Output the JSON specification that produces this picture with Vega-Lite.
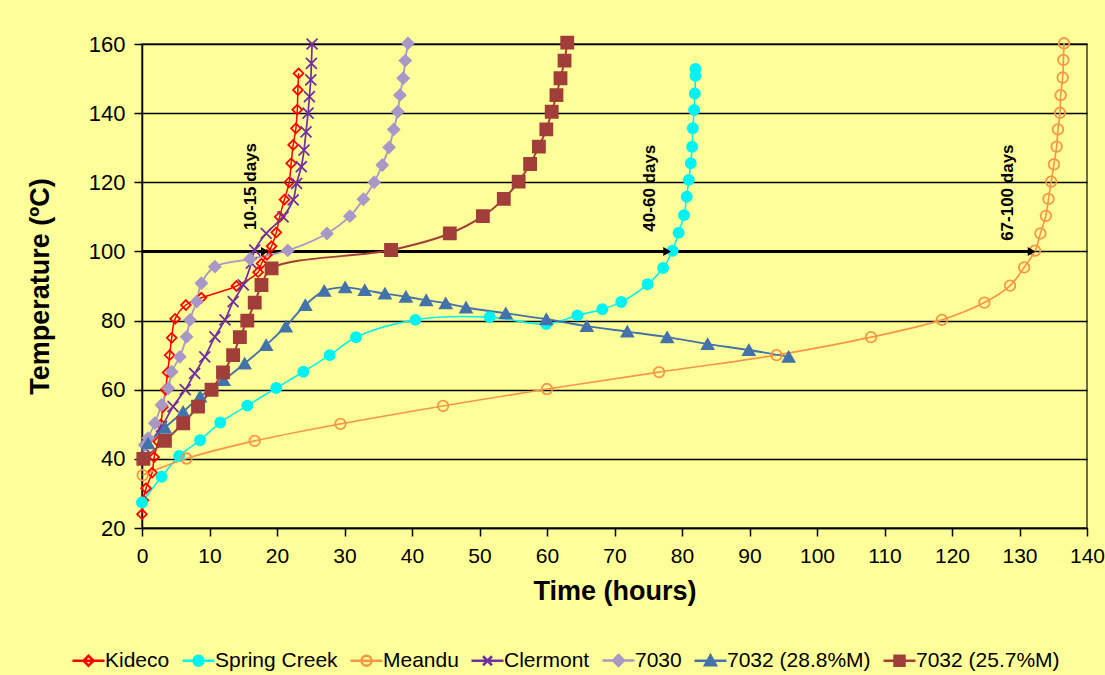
{
  "$schema": "https://vega.github.io/schema/vega-lite/v6.json",
  "width": 945,
  "height": 484,
  "autosize": {"type": "none"},
  "padding": {"left": 142, "top": 44, "right": 18, "bottom": 147},
  "background": "#FFFF99",
  "config": {
    "font": "Liberation Sans",
    "view": {"fill": "#CCFFFF", "stroke": "#3a3a3a", "strokeWidth": 1.5},
    "axis": {"labelColor": "black", "titleColor": "black", "tickColor": "black", "domainColor": "black", "domainWidth": 1.5, "tickWidth": 1.5, "tickSize": 8, "labelFontSize": 22, "labelFont": "Liberation Sans", "titleFont": "Liberation Sans", "titleFontSize": 27, "titleFontWeight": "bold", "labelFlush": false, "labelOverlap": false}
  },
  "resolve": {"scale": {"stroke": "independent", "fill": "independent", "shape": "independent", "size": "independent", "strokeWidth": "independent"}},
  "datasets": {
    "pts": [
      {"s":"Kideco","i":0,"x":0,"y":24},{"s":"Kideco","i":1,"x":0.2,"y":28},{"s":"Kideco","i":2,"x":0.6,"y":31.5},{"s":"Kideco","i":3,"x":1.5,"y":36},{"s":"Kideco","i":4,"x":1.8,"y":40.5},{"s":"Kideco","i":5,"x":2.4,"y":45},{"s":"Kideco","i":6,"x":2.8,"y":50},{"s":"Kideco","i":7,"x":3.1,"y":55},{"s":"Kideco","i":8,"x":3.5,"y":60},{"s":"Kideco","i":9,"x":3.8,"y":65},{"s":"Kideco","i":10,"x":4.1,"y":70},{"s":"Kideco","i":11,"x":4.4,"y":75},{"s":"Kideco","i":12,"x":4.9,"y":80.5},{"s":"Kideco","i":13,"x":6.5,"y":84.5},{"s":"Kideco","i":14,"x":8.8,"y":86.6},{"s":"Kideco","i":15,"x":14,"y":90},{"s":"Kideco","i":16,"x":17.2,"y":94},{"s":"Kideco","i":17,"x":17.7,"y":96.5},{"s":"Kideco","i":18,"x":18.5,"y":99},{"s":"Kideco","i":19,"x":19.2,"y":101.5},{"s":"Kideco","i":20,"x":19.9,"y":105.5},{"s":"Kideco","i":21,"x":20.4,"y":110},{"s":"Kideco","i":22,"x":21.1,"y":115},{"s":"Kideco","i":23,"x":21.8,"y":120},{"s":"Kideco","i":24,"x":22.1,"y":125.5},{"s":"Kideco","i":25,"x":22.4,"y":130.8},{"s":"Kideco","i":26,"x":22.8,"y":135.6},{"s":"Kideco","i":27,"x":23,"y":141},{"s":"Kideco","i":28,"x":23.1,"y":146.7},{"s":"Kideco","i":29,"x":23.2,"y":151.5},
      {"s":"Spring Creek","i":0,"x":0,"y":27.4},{"s":"Spring Creek","i":1,"x":2.9,"y":34.8},{"s":"Spring Creek","i":2,"x":5.5,"y":40.8},{"s":"Spring Creek","i":3,"x":8.6,"y":45.4},{"s":"Spring Creek","i":4,"x":11.6,"y":50.5},{"s":"Spring Creek","i":5,"x":15.6,"y":55.4},{"s":"Spring Creek","i":6,"x":19.9,"y":60.5},{"s":"Spring Creek","i":7,"x":23.9,"y":65.2},{"s":"Spring Creek","i":8,"x":27.8,"y":70},{"s":"Spring Creek","i":9,"x":31.7,"y":75.2},{"s":"Spring Creek","i":10,"x":40.5,"y":80.2},{"s":"Spring Creek","i":11,"x":51.5,"y":81},{"s":"Spring Creek","i":12,"x":59.9,"y":79},{"s":"Spring Creek","i":13,"x":64.5,"y":81.5},{"s":"Spring Creek","i":14,"x":68.2,"y":83.3},{"s":"Spring Creek","i":15,"x":71,"y":85.4},{"s":"Spring Creek","i":16,"x":74.9,"y":90.5},{"s":"Spring Creek","i":17,"x":77.2,"y":95.2},{"s":"Spring Creek","i":18,"x":78.6,"y":100.2},{"s":"Spring Creek","i":19,"x":79.5,"y":105.4},{"s":"Spring Creek","i":20,"x":80.3,"y":110.5},{"s":"Spring Creek","i":21,"x":80.7,"y":115.8},{"s":"Spring Creek","i":22,"x":81,"y":120.7},{"s":"Spring Creek","i":23,"x":81.3,"y":125.5},{"s":"Spring Creek","i":24,"x":81.5,"y":130.3},{"s":"Spring Creek","i":25,"x":81.6,"y":135.6},{"s":"Spring Creek","i":26,"x":81.8,"y":140.9},{"s":"Spring Creek","i":27,"x":81.9,"y":145.7},{"s":"Spring Creek","i":28,"x":82,"y":150.8},{"s":"Spring Creek","i":29,"x":82,"y":152.8},
      {"s":"Meandu","i":0,"x":0.1,"y":35.3},{"s":"Meandu","i":1,"x":6.6,"y":40.1},{"s":"Meandu","i":2,"x":16.7,"y":45.2},{"s":"Meandu","i":3,"x":29.4,"y":50.1},{"s":"Meandu","i":4,"x":44.6,"y":55.3},{"s":"Meandu","i":5,"x":60,"y":60.2},{"s":"Meandu","i":6,"x":76.6,"y":65.1},{"s":"Meandu","i":7,"x":94,"y":70},{"s":"Meandu","i":8,"x":108,"y":75.2},{"s":"Meandu","i":9,"x":118.5,"y":80.2},{"s":"Meandu","i":10,"x":124.8,"y":85.2},{"s":"Meandu","i":11,"x":128.6,"y":90.1},{"s":"Meandu","i":12,"x":130.7,"y":95.4},{"s":"Meandu","i":13,"x":132.3,"y":100.2},{"s":"Meandu","i":14,"x":133.1,"y":105.2},{"s":"Meandu","i":15,"x":133.9,"y":110.3},{"s":"Meandu","i":16,"x":134.3,"y":115.2},{"s":"Meandu","i":17,"x":134.7,"y":120.2},{"s":"Meandu","i":18,"x":135.1,"y":125.2},{"s":"Meandu","i":19,"x":135.5,"y":130.3},{"s":"Meandu","i":20,"x":135.7,"y":135.3},{"s":"Meandu","i":21,"x":136,"y":140.1},{"s":"Meandu","i":22,"x":136.1,"y":145.2},{"s":"Meandu","i":23,"x":136.4,"y":150.3},{"s":"Meandu","i":24,"x":136.5,"y":155.4},{"s":"Meandu","i":25,"x":136.6,"y":160.2},
      {"s":"Clermont","i":0,"x":0.5,"y":43},{"s":"Clermont","i":1,"x":2.9,"y":49.3},{"s":"Clermont","i":2,"x":4.6,"y":55.1},{"s":"Clermont","i":3,"x":6.4,"y":60},{"s":"Clermont","i":4,"x":7.8,"y":64.7},{"s":"Clermont","i":5,"x":9.3,"y":69.5},{"s":"Clermont","i":6,"x":10.8,"y":75.3},{"s":"Clermont","i":7,"x":12.3,"y":80.2},{"s":"Clermont","i":8,"x":13.5,"y":85.5},{"s":"Clermont","i":9,"x":15,"y":90.3},{"s":"Clermont","i":10,"x":16.2,"y":96.6},{"s":"Clermont","i":11,"x":16.7,"y":100.4},{"s":"Clermont","i":12,"x":18.4,"y":105.2},{"s":"Clermont","i":13,"x":20.9,"y":110},{"s":"Clermont","i":14,"x":22.4,"y":114.9},{"s":"Clermont","i":15,"x":22.9,"y":119.7},{"s":"Clermont","i":16,"x":23.6,"y":124.5},{"s":"Clermont","i":17,"x":24,"y":129.3},{"s":"Clermont","i":18,"x":24.3,"y":134.6},{"s":"Clermont","i":19,"x":24.6,"y":140},{"s":"Clermont","i":20,"x":24.8,"y":144.8},{"s":"Clermont","i":21,"x":25,"y":149.6},{"s":"Clermont","i":22,"x":25.1,"y":154.4},{"s":"Clermont","i":23,"x":25.2,"y":160},
      {"s":"7030","i":0,"x":0.4,"y":44},{"s":"7030","i":1,"x":0.9,"y":46},{"s":"7030","i":2,"x":1.9,"y":50.3},{"s":"7030","i":3,"x":2.9,"y":55.6},{"s":"7030","i":4,"x":3.9,"y":60.4},{"s":"7030","i":5,"x":4.4,"y":65.2},{"s":"7030","i":6,"x":5.6,"y":69.5},{"s":"7030","i":7,"x":6.6,"y":75.3},{"s":"7030","i":8,"x":7.1,"y":80.2},{"s":"7030","i":9,"x":8.1,"y":85.5},{"s":"7030","i":10,"x":8.8,"y":90.8},{"s":"7030","i":11,"x":10.8,"y":95.6},{"s":"7030","i":12,"x":16,"y":97.8},{"s":"7030","i":13,"x":21.6,"y":100.3},{"s":"7030","i":14,"x":27.4,"y":105.2},{"s":"7030","i":15,"x":30.8,"y":110.2},{"s":"7030","i":16,"x":32.8,"y":115.1},{"s":"7030","i":17,"x":34.4,"y":120},{"s":"7030","i":18,"x":35.6,"y":125},{"s":"7030","i":19,"x":36.6,"y":130.1},{"s":"7030","i":20,"x":37.3,"y":135.3},{"s":"7030","i":21,"x":37.9,"y":140.4},{"s":"7030","i":22,"x":38.2,"y":145.2},{"s":"7030","i":23,"x":38.7,"y":150.1},{"s":"7030","i":24,"x":39,"y":155.2},{"s":"7030","i":25,"x":39.4,"y":160.2},
      {"s":"7032 (28.8%M)","i":0,"x":0.9,"y":44.5},{"s":"7032 (28.8%M)","i":1,"x":3.4,"y":49},{"s":"7032 (28.8%M)","i":2,"x":6.1,"y":53.6},{"s":"7032 (28.8%M)","i":3,"x":8.6,"y":58},{"s":"7032 (28.8%M)","i":4,"x":12.1,"y":62.8},{"s":"7032 (28.8%M)","i":5,"x":15.2,"y":67.6},{"s":"7032 (28.8%M)","i":6,"x":18.4,"y":72.9},{"s":"7032 (28.8%M)","i":7,"x":21.3,"y":78.3},{"s":"7032 (28.8%M)","i":8,"x":24.2,"y":84.5},{"s":"7032 (28.8%M)","i":9,"x":27,"y":88.6},{"s":"7032 (28.8%M)","i":10,"x":30.1,"y":89.6},{"s":"7032 (28.8%M)","i":11,"x":33,"y":88.8},{"s":"7032 (28.8%M)","i":12,"x":36,"y":87.8},{"s":"7032 (28.8%M)","i":13,"x":39.1,"y":86.9},{"s":"7032 (28.8%M)","i":14,"x":42.1,"y":85.9},{"s":"7032 (28.8%M)","i":15,"x":45,"y":85},{"s":"7032 (28.8%M)","i":16,"x":48,"y":83.8},{"s":"7032 (28.8%M)","i":17,"x":53.9,"y":82.1},{"s":"7032 (28.8%M)","i":18,"x":59.9,"y":80.4},{"s":"7032 (28.8%M)","i":19,"x":65.9,"y":78.4},{"s":"7032 (28.8%M)","i":20,"x":71.9,"y":76.8},{"s":"7032 (28.8%M)","i":21,"x":77.8,"y":75.2},{"s":"7032 (28.8%M)","i":22,"x":83.8,"y":73.2},{"s":"7032 (28.8%M)","i":23,"x":89.9,"y":71.5},{"s":"7032 (28.8%M)","i":24,"x":95.8,"y":69.5},
      {"s":"7032 (25.7%M)","i":0,"x":0.2,"y":40},{"s":"7032 (25.7%M)","i":1,"x":3.4,"y":45.2},{"s":"7032 (25.7%M)","i":2,"x":6.1,"y":50.3},{"s":"7032 (25.7%M)","i":3,"x":8.3,"y":55.1},{"s":"7032 (25.7%M)","i":4,"x":10.3,"y":60},{"s":"7032 (25.7%M)","i":5,"x":12,"y":65},{"s":"7032 (25.7%M)","i":6,"x":13.5,"y":70},{"s":"7032 (25.7%M)","i":7,"x":14.5,"y":75.2},{"s":"7032 (25.7%M)","i":8,"x":15.6,"y":80},{"s":"7032 (25.7%M)","i":9,"x":16.7,"y":85.2},{"s":"7032 (25.7%M)","i":10,"x":17.7,"y":90.3},{"s":"7032 (25.7%M)","i":11,"x":19.2,"y":95.1},{"s":"7032 (25.7%M)","i":12,"x":36.9,"y":100.4},{"s":"7032 (25.7%M)","i":13,"x":45.6,"y":105.2},{"s":"7032 (25.7%M)","i":14,"x":50.5,"y":110.2},{"s":"7032 (25.7%M)","i":15,"x":53.6,"y":115.2},{"s":"7032 (25.7%M)","i":16,"x":55.8,"y":120.2},{"s":"7032 (25.7%M)","i":17,"x":57.5,"y":125.3},{"s":"7032 (25.7%M)","i":18,"x":58.8,"y":130.3},{"s":"7032 (25.7%M)","i":19,"x":59.9,"y":135.3},{"s":"7032 (25.7%M)","i":20,"x":60.7,"y":140.4},{"s":"7032 (25.7%M)","i":21,"x":61.4,"y":145.2},{"s":"7032 (25.7%M)","i":22,"x":62,"y":150.1},{"s":"7032 (25.7%M)","i":23,"x":62.6,"y":155.2},{"s":"7032 (25.7%M)","i":24,"x":63,"y":160.4}
    ],
    "arrows": [
      {"label": "10-15 days", "x0": 0, "x1": 18.2, "y": 100, "tx": 16.2, "ty": 118.8},
      {"label": "40-60 days", "x0": 0, "x1": 77.8, "y": 100, "tx": 75.2, "ty": 118.3},
      {"label": "67-100 days", "x0": 0, "x1": 131.8, "y": 100, "tx": 128.3, "ty": 117}
    ]
  },
  "layer": [
    {
      "data": {"name": "arrows"},
      "mark": {"type": "rule", "color": "black", "strokeWidth": 3},
      "encoding": {
        "x": {"field": "x0", "type": "quantitative", "scale": {"domain": [0, 140], "nice": false, "zero": false},
          "axis": {"values": [0,10,20,30,40,50,60,70,80,90,100,110,120,130,140], "grid": false, "labelPadding": 9, "labelFontSize": 21, "title": "Time (hours)", "titlePadding": 12}},
        "x2": {"field": "x1"},
        "y": {"field": "y", "type": "quantitative", "scale": {"domain": [20, 160], "nice": false, "zero": false},
          "axis": {"values": [20,40,60,80,100,120,140,160], "grid": true, "gridColor": "black", "gridWidth": 1.5, "labelPadding": 9, "title": "Temperature (ºC)", "titlePadding": 34}}
      }
    },
    {
      "data": {"name": "pts"},
      "mark": {"type": "line", "interpolate": "catmull-rom"},
      "encoding": {
        "x": {"field": "x", "type": "quantitative"},
        "y": {"field": "y", "type": "quantitative"},
        "order": {"field": "i", "type": "quantitative"},
        "stroke": {"field": "s", "type": "nominal", "legend": null,
          "scale": {"domain": ["Kideco","Spring Creek","Meandu","Clermont","7030","7032 (28.8%M)","7032 (25.7%M)"],
                    "range": ["#FF0000","#00F2F2","#F79646","#7030A0","#A898C8","#4472AA","#A23E3A"]}},
        "strokeWidth": {"field": "s", "type": "nominal", "legend": null,
          "scale": {"domain": ["Kideco","Spring Creek","Meandu","Clermont","7030","7032 (28.8%M)","7032 (25.7%M)"],
                    "range": [1.5, 2, 2, 3, 3, 3, 2.5]}}
      }
    },
    {
      "data": {"name": "pts"},
      "mark": {"type": "point", "filled": true, "strokeWidth": 1.8, "opacity": 1},
      "encoding": {
        "x": {"field": "x", "type": "quantitative"},
        "y": {"field": "y", "type": "quantitative"},
        "shape": {"field": "s", "type": "nominal", "legend": null,
          "scale": {"domain": ["Kideco","Spring Creek","Meandu","Clermont","7030","7032 (28.8%M)","7032 (25.7%M)"],
                    "range": ["diamond","circle","circle","M-1,-1L1,1M-1,1L1,-1","diamond","triangle-up","square"]}},
        "fill": {"field": "s", "type": "nominal", "legend": null,
          "scale": {"domain": ["Kideco","Spring Creek","Meandu","Clermont","7030","7032 (28.8%M)","7032 (25.7%M)"],
                    "range": ["transparent","#00F2F2","transparent","#7030A0","#A898C8","#4472AA","#A23E3A"]}},
        "size": {"field": "s", "type": "nominal", "legend": null,
          "scale": {"domain": ["Kideco","Spring Creek","Meandu","Clermont","7030","7032 (28.8%M)","7032 (25.7%M)"],
                    "range": [95, 145, 125, 120, 125, 155, 155]}},
        "stroke": {"field": "s", "type": "nominal", "legend": null,
          "scale": {"domain": ["Kideco","Spring Creek","Meandu","Clermont","7030","7032 (28.8%M)","7032 (25.7%M)"],
                    "range": ["#FF0000","#00F2F2","#F79646","#7030A0","#A898C8","#4472AA","#A23E3A"]}}
      }
    },
    {
      "data": {"name": "pts"},
      "transform": [{"filter": "datum.i < 0"}],
      "mark": {"type": "point", "filled": true, "strokeWidth": 2.5, "size": 100, "opacity": 1},
      "encoding": {
        "shape": {"field": "s", "type": "nominal",
          "scale": {"domain": ["Kideco","Spring Creek","Meandu","Clermont","7030","7032 (28.8%M)","7032 (25.7%M)"],
                    "range": ["M-3.2,0H3.2M0,-1L1,0L0,1L-1,0Z",
                              "M-3.2,0H3.2M-1,0A1,1,0,1,0,1,0A1,1,0,1,0,-1,0Z",
                              "M-3.2,0H3.2M-1,0A1,1,0,1,0,1,0A1,1,0,1,0,-1,0Z",
                              "M-3.2,0H3.2M-0.9,-0.9L0.9,0.9M-0.9,0.9L0.9,-0.9",
                              "M-3.2,0H3.2M0,-1.1L1.1,0L0,1.1L-1.1,0Z",
                              "M-3.2,0H3.2M0,-1.1L1.1,0.9L-1.1,0.9Z",
                              "M-3.2,0H3.2M-1,-1H1V1H-1Z"]}},
        "fill": {"field": "s", "type": "nominal",
          "scale": {"domain": ["Kideco","Spring Creek","Meandu","Clermont","7030","7032 (28.8%M)","7032 (25.7%M)"],
                    "range": ["transparent","#00F2F2","transparent","#7030A0","#A898C8","#4472AA","#A23E3A"]}},
        "stroke": {"field": "s", "type": "nominal",
          "scale": {"domain": ["Kideco","Spring Creek","Meandu","Clermont","7030","7032 (28.8%M)","7032 (25.7%M)"],
                    "range": ["#FF0000","#00F2F2","#F79646","#7030A0","#A898C8","#4472AA","#A23E3A"]},
          "legend": {
            "title": null, "orient": "none", "legendX": -64, "legendY": 606, "direction": "horizontal",
            "symbolSize": 100, "symbolStrokeWidth": 2.5, "symbolOpacity": 1, "labelFontSize": 21, "labelFont": "Liberation Sans", "labelColor": "black",
            "labelOffset": 6, "columnPadding": 7, "padding": 0, "rowPadding": 0
          }}
      }
    },
    {
      "data": {"name": "arrows"},
      "mark": {"type": "point", "shape": "triangle-right", "filled": true, "color": "black", "size": 80, "opacity": 1},
      "encoding": {
        "x": {"field": "x1", "type": "quantitative"},
        "y": {"field": "y", "type": "quantitative"}
      }
    },
    {
      "data": {"name": "arrows"},
      "mark": {"type": "text", "angle": 270, "align": "center", "baseline": "middle", "fontSize": 17, "fontWeight": "bold", "color": "black", "font": "Liberation Sans"},
      "encoding": {
        "x": {"field": "tx", "type": "quantitative"},
        "y": {"field": "ty", "type": "quantitative"},
        "text": {"field": "label"}
      }
    }
  ]
}
